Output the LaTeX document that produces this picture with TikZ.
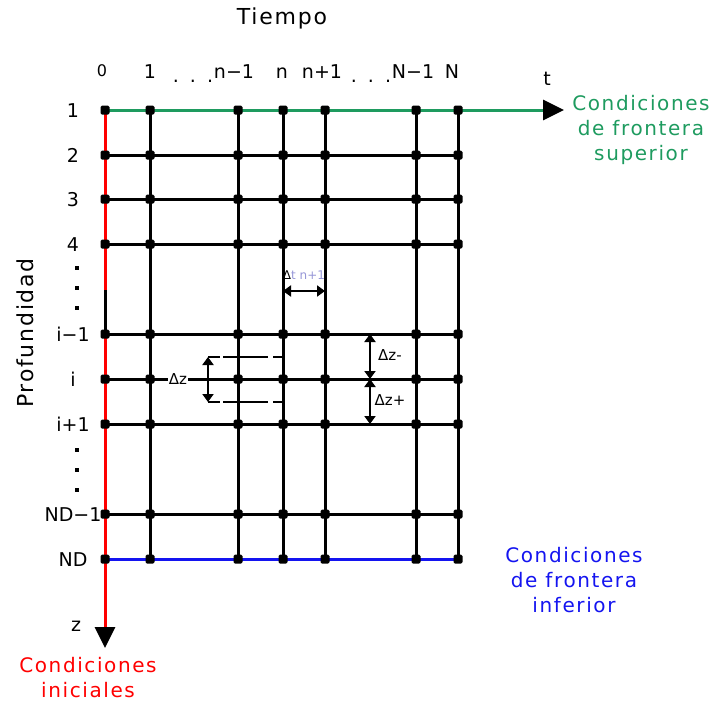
\documentclass[tikz,border=0pt]{standalone}
\usepackage{fontspec}
\setmainfont{DejaVu Sans}
\newfontfamily\widefont[LetterSpace=8]{DejaVu Sans}
\usetikzlibrary{arrows.meta}
\definecolor{fgreen}{RGB}{30,155,95}
\definecolor{fred}{RGB}{255,0,0}
\definecolor{fblue}{RGB}{20,20,240}
\definecolor{flav}{RGB}{150,150,215}

\begin{document}
\begin{tikzpicture}[
  x=1pt, y=-1pt,
  gline/.style={line width=3pt},
  dot/.style={fill, rectangle, rounded corners=1.5pt, minimum size=9pt, inner sep=0pt},
  sdot/.style={fill, rectangle, minimum size=3.8pt, inner sep=0pt},
  lab/.style={font=\fontsize{19}{22}\selectfont, inner sep=0pt, anchor=base},
  cond/.style={font=\widefont\fontsize{20}{25}\selectfont, align=center, inner sep=0pt},
  dlt/.style={font=\fontsize{15}{16}\selectfont, inner sep=1pt},
  big/.style={-{Triangle[length=21pt,width=20pt,color=black]}},
  dimarr/.style={line width=2.2pt, {Triangle[length=8pt,width=11pt]}-{Triangle[length=8pt,width=11pt]}}
]
\useasboundingbox (0,0) rectangle (721,702);

% grid points
\foreach \cx/\cn in {105/0,150/1,238/nm,283/n,325/np,416/Nm,458/N}
  \foreach \ry/\rn in {110/1,155/2,199/3,244/4,334/im,379/i,424/ip,514/NDm,559/ND}
    \coordinate (p-\cn-\rn) at (\cx,\ry);
\coordinate (tend) at (564,110);
\coordinate (zend) at (105,648);
\coordinate (brk) at (105,290);

% lines
\foreach \cn in {1,nm,n,np,Nm,N}
  \draw[gline] (p-\cn-1) -- (p-\cn-ND);
\foreach \rn in {2,3,4,im,i,ip,NDm}
  \draw[gline] (p-0-\rn) -- (p-N-\rn);
\draw[gline, fblue] (p-0-ND) -- (p-N-ND);
\draw[gline, fred, big] (p-0-1) -- (zend);
\draw[gline] (brk) -- (p-0-im);
\draw[gline, fgreen, big] (p-0-1) -- (tend);

\foreach \cn in {0,1,nm,n,np,Nm,N}
  \foreach \rn in {1,2,3,4,im,i,ip,NDm,ND}
    \node[dot] (d-\cn-\rn) at (p-\cn-\rn) {};

% axis labels
\node[font=\widefont\fontsize{22}{24}\selectfont] (tiempo) at (282,18) {Tiempo};
\node[font=\widefont\fontsize{22}{24}\selectfont, rotate=90] (prof) at (25,333) {Profundidad};
\node[lab] (t) at (547,85) {t};
\node[lab] (z) at (76,631) {z};

\node[lab, font=\fontsize{16}{18}\selectfont] (c0) at (102,76) {0};
\foreach \cx/\txt/\cn in {150/1/1,234/n−1/nm,282/n/n,322/n+1/np,413/N−1/Nm,452/N/N}
  \node[lab] (c\cn) at (\cx,78) {\txt};
\node[lab] (cdots1) at (193,82) {.\hspace{11pt}.\hspace{11pt}.};
\node[lab] (cdots2) at (371,82) {.\hspace{11pt}.\hspace{11pt}.};

\foreach \ry/\txt/\rn in {110/1/1,155/2/2,199/3/3,244/4/4,334/i−1/im,379/i/i,424/i+1/ip,514/ND−1/NDm,559/ND/ND}
  \node[lab] (r\rn) at (73,\ry+7) {\txt};
\foreach \ry [count=\k] in {268,288,308,450,470,490}
  \node[sdot] (v\k) at (77,\ry) {};

% boundary conditions
\node[cond, fgreen] (sup) at (641,130) {Condiciones\\de frontera\\superior};
\node[cond, fblue] (inf) at (574,580) {Condiciones\\de frontera\\inferior};
\node[cond, fred] (ini) at (88,678) {Condiciones\\iniciales};

% increments
\coordinate (dta) at (283,291);
\coordinate (dtb) at (325,291);
\draw[dimarr] (dta) -- (dtb);
\node[dlt, font=\fontsize{12}{13}\selectfont] (dtl) at (304,275) {Δ\textcolor{flav}{t n+1}};

\coordinate (dzt) at (208,357);
\coordinate (dzb) at (208,402);
\coordinate (dzte) at (283,357);
\coordinate (dzbe) at (283,402);
\draw[line width=2.2pt, dash pattern=on 12pt off 3pt on 45pt off 5pt on 20pt] (dzt) -- (dzte);
\draw[line width=2.2pt, dash pattern=on 12pt off 3pt on 45pt off 5pt on 20pt] (dzb) -- (dzbe);
\draw[dimarr] (dzt) -- (dzb);
\node[dlt, fill=white] (dzl) at (178,379) {Δz};

\coordinate (zma) at (370,334);
\coordinate (zmb) at (370,379);
\coordinate (zpb) at (370,424);
\draw[dimarr] (zma) -- (zmb);
\draw[dimarr] (zmb) -- (zpb);
\node[dlt] (dzm) at (390,355) {Δz-};
\node[dlt] (dzp) at (390,400) {Δz+};
\end{tikzpicture}
\end{document}
